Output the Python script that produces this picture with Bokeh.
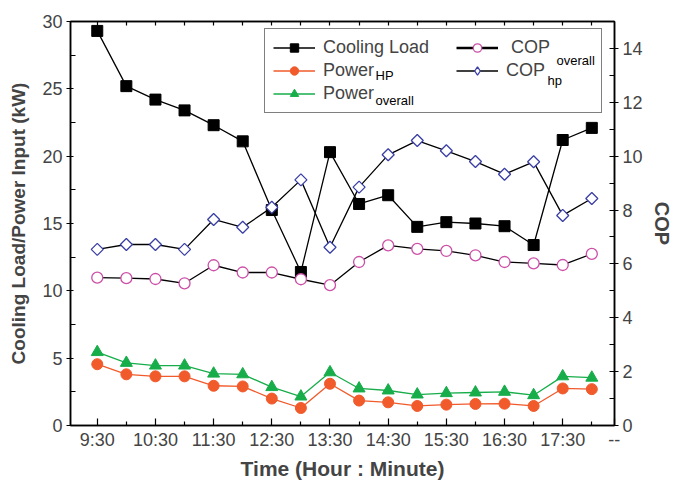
import numpy as np
from bokeh.plotting import figure
from bokeh.models import (Range1d, LinearAxis, FixedTicker, Legend, LegendItem, Label)
from bokeh.embed import file_html
from bokeh.resources import INLINE

# ---------------- data ----------------
times = ["9:30", "10:00", "10:30", "11:00", "11:30", "12:00", "12:30", "13:00", "13:30",
         "14:00", "14:30", "15:00", "15:30", "16:00", "16:30", "17:00", "17:30", "18:00"]
x_tick_labels = ["9:30", "10:30", "11:30", "12:30", "13:30", "14:30", "15:30", "16:30", "17:30", "--"]

cooling_load = [29.3, 25.2, 24.2, 23.4, 22.3, 21.1, 16.0, 11.4, 20.3,
                16.45, 17.1, 14.75, 15.1, 15.0, 14.8, 13.4, 21.2, 22.1]
power_hp = [4.55, 3.8, 3.65, 3.65, 2.95, 2.9, 2.0, 1.3, 3.1,
            1.85, 1.72, 1.45, 1.55, 1.6, 1.62, 1.45, 2.75, 2.7]
power_overall = [5.45, 4.65, 4.45, 4.45, 3.85, 3.8, 2.85, 2.15, 3.95,
                 2.75, 2.6, 2.3, 2.4, 2.45, 2.5, 2.25, 3.65, 3.55]
cop_overall = [5.49, 5.47, 5.44, 5.28, 5.95, 5.68, 5.68, 5.43, 5.21,
               6.07, 6.69, 6.56, 6.48, 6.32, 6.07, 6.02, 5.96, 6.37]
cop_hp = [6.54, 6.72, 6.72, 6.54, 7.65, 7.36, 8.1, 9.12, 6.62,
          8.85, 10.05, 10.58, 10.2, 9.8, 9.33, 9.79, 7.8, 8.43]

FONT = "Liberation Sans"
ORANGE = "#F15A2B"
GREEN = "#17AD4A"
PINK = "#CC4FA8"
BLUE = "#3A3FA6"

idx = list(range(len(times)))
X_START, X_END = -0.92, 17.78
Y_MAX = 30

# frame geometry on the canvas (px) -- used only to place legend sub/superscripts
FRAME_L, FRAME_R, FRAME_T, FRAME_B = 70, 614, 21, 426


def px_to_x(px):
    return X_START + (px - FRAME_L) / (FRAME_R - FRAME_L) * (X_END - X_START)


def px_to_y(py):
    return (FRAME_B - py) / (FRAME_B - FRAME_T) * Y_MAX


p = figure(width=675, height=482, output_backend="svg", toolbar_location=None,
           x_range=Range1d(X_START, X_END), y_range=Range1d(0, Y_MAX),
           min_border_left=70, min_border_right=61, min_border_top=21, min_border_bottom=56)
p.grid.visible = False
p.outline_line_color = "black"
p.outline_line_width = 1.5
p.background_fill_color = "white"
p.border_fill_color = "white"
p.extra_y_ranges = {"cop": Range1d(0, 15)}

# x ticks
major_x = [0, 2, 4, 6, 8, 10, 12, 14, 16, X_END - 0.005]
minor_x = [1, 3, 5, 7, 9, 11, 13, 15, 17]
xa = p.xaxis[0]
xa.ticker = FixedTicker(ticks=major_x, minor_ticks=minor_x)
xa.major_label_overrides = {t: lab for t, lab in zip(major_x, x_tick_labels)}
xa.major_tick_in = 7
xa.major_tick_out = 0
xa.minor_tick_in = 4
xa.minor_tick_out = 0
xa.axis_line_width = 1.5
xa.major_tick_line_width = 1.2
xa.minor_tick_line_width = 1.2
xa.major_label_text_font = FONT
xa.major_label_text_font_size = "18px"
xa.major_label_standoff = 4
xa.axis_label = "Time (Hour : Minute)"
xa.axis_label_text_font = FONT
xa.axis_label_text_font_size = "21px"
xa.axis_label_text_font_style = "bold"
xa.axis_label_standoff = 4

# top axis (tick marks only, as minor ticks -> no labels)
ta = LinearAxis(ticker=FixedTicker(ticks=[], minor_ticks=idx))
ta.major_tick_in = 0
ta.major_tick_out = 0
ta.minor_tick_in = 4
ta.minor_tick_out = 0
ta.minor_tick_line_width = 1.2
ta.axis_line_width = 1.5
ta.major_label_standoff = 0
p.add_layout(ta, "above")

# left axis
ya = p.yaxis[0]
ya.ticker = FixedTicker(ticks=[0, 5, 10, 15, 20, 25, 30],
                        minor_ticks=[2.5, 7.5, 12.5, 17.5, 22.5, 27.5])
ya.major_tick_out = 4
ya.major_tick_in = 3
ya.minor_tick_in = 5
ya.minor_tick_out = 0
ya.axis_line_width = 1.5
ya.major_tick_line_width = 1.2
ya.minor_tick_line_width = 1.2
ya.major_label_text_font = FONT
ya.major_label_text_font_size = "18px"
ya.major_label_standoff = 4
ya.axis_label = "Cooling Load/Power Input (kW)"
ya.axis_label_text_font = FONT
ya.axis_label_text_font_size = "19px"
ya.axis_label_text_font_style = "bold"
ya.axis_label_standoff = 10

# right axis
ra = LinearAxis(y_range_name="cop",
                ticker=FixedTicker(ticks=[0, 2, 4, 6, 8, 10, 12, 14],
                                   minor_ticks=[1, 3, 5, 7, 9, 11, 13, 15]))
ra.major_tick_out = 4
ra.major_tick_in = 5
ra.minor_tick_in = 5
ra.minor_tick_out = 0
ra.axis_line_width = 1.5
ra.major_tick_line_width = 1.2
ra.minor_tick_line_width = 1.2
ra.major_label_text_font = FONT
ra.major_label_text_font_size = "18px"
ra.major_label_standoff = 4
ra.axis_label = "COP"
ra.axis_label_text_font = FONT
ra.axis_label_text_font_size = "20px"
ra.axis_label_text_font_style = "bold"
ra.axis_label_standoff = 5
p.add_layout(ra, "right")

# ---------------- series ----------------
cl_line = p.line(idx, cooling_load, line_color="black", line_width=1.3)
cl_pts = p.scatter(idx, cooling_load, marker="square", size=11,
                   fill_color="black", line_color="black")

coh_line = p.line(idx, cop_hp, line_color="black", line_width=1.3, y_range_name="cop")
coh_pts = p.scatter(idx, cop_hp, marker="square", angle=np.pi / 4, size=8.5,
                    fill_color="white", line_color=BLUE, line_width=1.3, y_range_name="cop")

coo_line = p.line(idx, cop_overall, line_color="black", line_width=1.3, y_range_name="cop")
coo_pts = p.scatter(idx, cop_overall, marker="circle", size=11,
                    fill_color="white", line_color=PINK, line_width=1.3, y_range_name="cop")

po_line = p.line(idx, power_overall, line_color=GREEN, line_width=1.3)
po_pts = p.scatter(idx, power_overall, marker="triangle", size=12,
                   fill_color=GREEN, line_color=GREEN)

ph_line = p.line(idx, power_hp, line_color=ORANGE, line_width=1.3)
ph_pts = p.scatter(idx, power_hp, marker="circle", size=11,
                   fill_color=ORANGE, line_color=ORANGE)

# legend-only glyphs (hidden renderers, shown in the legend key only)
coo_leg_line = p.line(idx, cop_overall, line_color="black", line_width=2.6,
                      y_range_name="cop", visible=False)
coh_leg_pts = p.scatter(idx, cop_hp, marker="diamond", size=14,
                        fill_color="white", line_color=BLUE, line_width=1.3,
                        y_range_name="cop", visible=False)

legend = Legend(items=[
    LegendItem(label="Cooling Load     ", renderers=[cl_line, cl_pts]),
    LegendItem(label="Power", renderers=[ph_line, ph_pts]),
    LegendItem(label="Power", renderers=[po_line, po_pts]),
    LegendItem(label=" COP", renderers=[coo_leg_line, coo_pts]),
    LegendItem(label="COP", renderers=[coh_line, coh_leg_pts]),
], ncols=2, location=(194, 312))
legend.label_text_font = FONT
legend.label_text_font_size = "18px"
legend.label_width = 87
legend.label_height = 21
legend.glyph_width = 42
legend.glyph_height = 21
legend.label_standoff = 8
legend.padding = 8
legend.spacing = 2
legend.margin = 0
legend.border_line_color = "black"
legend.border_line_width = 1.5
legend.background_fill_alpha = 0
legend.inactive_fill_alpha = 0
p.add_layout(legend, "center")

# subscripts / superscripts of the legend texts (canvas px -> data units)
for txt, cx, cy in [("HP", 375, 75), ("overall", 375, 100),
                    ("overall", 556, 60), ("hp", 547, 80)]:
    lab = Label(x=px_to_x(cx), y=px_to_y(cy), text=txt,
                text_font=FONT, text_font_size="13px", text_baseline="middle",
                text_align="left", text_color="black")
    p.add_layout(lab, "center")

open("out.html", "w").write(file_html(p, INLINE))
